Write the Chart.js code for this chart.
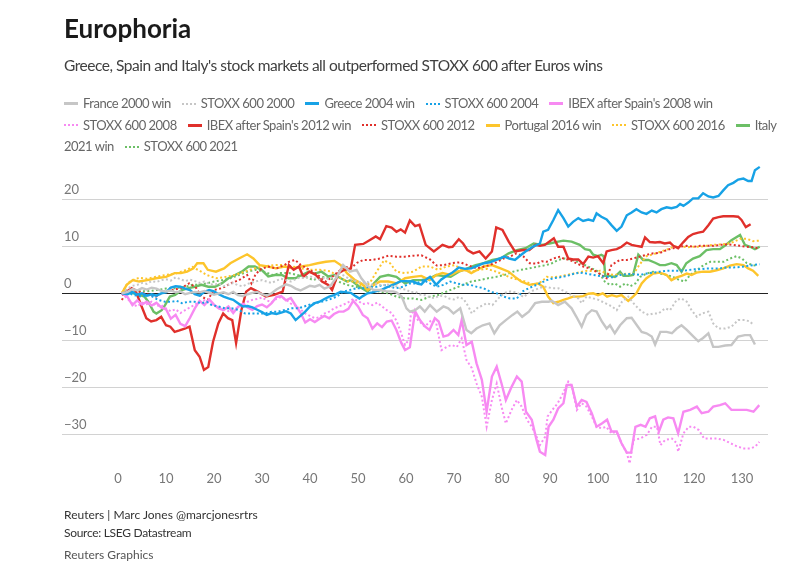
<!DOCTYPE html>
<html><head><meta charset="utf-8">
<script src="https://cdn.jsdelivr.net/npm/chart.js@4.4.1/dist/chart.umd.min.js"></script>
<style>
html,body{margin:0;padding:0;background:#fff;width:810px;height:576px;overflow:hidden;font-family:Lato,"Noto Sans",sans-serif;}
#c{position:absolute;left:0;top:0;}
.t{position:absolute;left:64px;white-space:nowrap;}
#title{top:12px;font-size:26px;font-weight:700;color:#1a1a1a;}
#sub{top:56px;font-size:15.5px;color:#404040;letter-spacing:-0.47px;}
#legend{top:93px;font-size:13px;color:#666;letter-spacing:-0.5px;}
.row{height:21.5px;line-height:21.5px;white-space:nowrap;}
.item{display:inline-block;margin-right:11px;}
.sw{display:inline-block;width:14px;height:0;vertical-align:middle;margin-right:5px;position:relative;top:-1px;}
#f1{top:507px;font-size:12px;color:#333;}
#f2{top:525px;font-size:12px;color:#333;letter-spacing:-0.3px;}
#f3{top:547px;font-size:12px;color:#555;}
</style></head>
<body>
<canvas id="c" width="810" height="576"></canvas>
<div class="t" id="title">Europhoria</div>
<div class="t" id="sub">Greece, Spain and Italy's stock markets all outperformed STOXX 600 after Euros wins</div>
<div class="t" id="legend"></div>
<div class="t" id="f1">Reuters | Marc Jones @marcjonesrtrs</div>
<div class="t" id="f2">Source: LSEG Datastream</div>
<div class="t" id="f3">Reuters Graphics</div>
<script>
// ---- DATA: [trading day after win, % change] ----
const xTickValues = [0,10,20,30,40,50,60,70,80,90,100,110,120,130];
const yTickValues = [-30,-20,-10,0,10,20];

const france2000 = [[0.8,0],[2,0.3],[3,0.9],[4,0.6],[5,1.1],[6,0.8],[7,1.2],[8,1.0],[9,0.5],[10,0.4],[11,0.6],[12,0.2],[13,0.4],[14,-0.2],[15,0.1],[16,0.3],[17,0.2],[18,0.5],[19,0.1],[20,-0.3],[21,0],[22,0.2],[23,-0.2],[24,0.3],[25,-0.4],[26,-0.6],[27,-0.2],[28,0.1],[29,0.3],[30,-0.2],[31,-0.5],[32,0],[33,0.8],[34,1.4],[35,1.9],[36,1.6],[37,1.0],[38,0.6],[39,1.1],[40,1.6],[41,1.4],[42,1.8],[43,1.0],[44.2,1.5],[45.6,3.5],[46.9,6.0],[48.3,4.6],[49.7,5.0],[50.7,3.2],[51.8,1.8],[53.2,0.7],[54.6,0.7],[55.9,0.4],[57.3,0.4],[58,0.2],[59.1,-0.7],[60.1,-3.2],[60.8,-3.9],[61.9,-3.6],[62.9,-2.8],[63.9,-3.9],[65,-2.5],[66.4,-3.9],[67.8,-2.8],[68.8,-3.2],[69.9,-4.3],[71.3,-3.2],[72.6,-7.8],[73.6,-8.5],[74.7,-7.5],[76,-6.8],[77.4,-6.4],[78.4,-8.5],[79.5,-6.8],[80.8,-5.7],[82.2,-4.6],[83.2,-3.9],[84.2,-5.0],[85.6,-3.9],[86.9,-2.1],[88.3,-1.8],[89.7,-1.8],[90.4,-1.6],[91.7,-2.5],[93.1,-1.8],[94.5,-3.2],[95.5,-5.0],[96.6,-7.1],[97.6,-4.6],[98.7,-3.6],[99.7,-3.9],[100.8,-6.0],[101.8,-7.5],[102.5,-6.8],[103.5,-8.5],[104.6,-6.8],[106,-5.3],[107,-5.2],[108.1,-6.8],[109.1,-8.2],[110.1,-8.5],[111.2,-9.2],[111.9,-10.9],[113,-8.2],[114.3,-8.2],[115.4,-8.5],[116.4,-7.5],[117.4,-6.8],[118.5,-7.8],[119.9,-9.2],[120.9,-10.2],[121.9,-9.5],[123,-8.5],[124,-11.4],[125.1,-11.4],[126.5,-11.1],[127.8,-11.0],[129.2,-9.2],[130.6,-8.9],[131.7,-8.9],[132.7,-10.9]];

const stoxx2000 = [[0.8,0],[2,1.0],[3,1.6],[4,1.8],[5,2.2],[6,2.0],[7,2.6],[8,2.4],[9,2.8],[10,3.0],[11,2.7],[12,3.4],[13,3.0],[14,2.6],[15,2.9],[16,2.6],[17,2.2],[18,2.5],[19,2.0],[20,1.8],[21,2.1],[22,1.5],[23,1.8],[24,2.2],[25,1.7],[26,1.5],[27,2.0],[28,2.3],[29,2.6],[30,2.8],[31,2.5],[32,2.2],[33,2.7],[34,3.1],[35,2.8],[36,2.5],[37,3.0],[38,3.4],[39,3.2],[40,3.6],[41,3.2],[42,2.9],[43,3.3],[44,3.0],[45,3.6],[46,4.2],[47,3.8],[48,3.2],[49,2.8],[50,2.5],[51,2.2],[52,2.4],[53,1.8],[54,2.1],[55,1.6],[56,2.0],[57,1.4],[58,1.5],[59,0.9],[60,0.8],[61,0.2],[62,0.3],[63,-0.3],[64,-0.4],[65,-0.9],[66,-1.0],[67,-0.5],[68,-0.6],[69,-1.1],[70,-1.3],[71,-0.8],[72,-1.2],[73,-2.8],[73.7,-4.3],[75,-3.0],[76,-2.6],[76.8,-2.1],[78,-2.5],[79.6,-0.7],[80.6,0.1],[81.7,0.4],[83,0.2],[84.5,-0.8],[85.5,0],[86.5,0.6],[88,1.2],[89,1.4],[90.4,1.1],[91.7,1.1],[93.1,0.4],[94.5,-0.4],[95.9,-1.1],[96.6,-2.1],[97.6,-0.7],[98.7,-1.0],[100.1,-1.4],[101.5,-2.1],[102.9,-2.8],[103.9,-3.6],[105,-1.8],[106.3,-0.7],[107.7,-2.5],[109.1,-3.9],[110.5,-4.6],[111.5,-4.3],[112.6,-4.3],[114,-3.2],[115,-3.6],[116.4,-1.4],[117.4,-1.1],[118.5,-1.8],[119.5,-3.6],[120.6,-5.0],[121.6,-4.3],[123,-3.9],[124,-6.4],[125.1,-7.5],[126.5,-7.5],[127.8,-7.1],[129.2,-5.7],[130.6,-5.7],[131.7,-6.0],[132.4,-6.8]];

const greece2004 = [[0.8,0],[2,-0.2],[3,0.3],[4,-0.3],[5,0],[6,-0.5],[7,-0.2],[8,-0.5],[9,0],[10,0.2],[11,1.2],[12,1.5],[13,1.4],[14,1.0],[15,0.7],[16,-0.2],[17,-0.5],[18,0.3],[19,0.7],[20,0.4],[21,-0.2],[22,-0.7],[23,-1.1],[24,-1.4],[25,-2.1],[26,-2.8],[27,-2.7],[28,-3.0],[29,-3.5],[30,-4.0],[31,-4.6],[32,-4.2],[33,-4.4],[34,-4.1],[35,-3.8],[36,-4.3],[37,-5.7],[38,-4.8],[39,-3.9],[40,-2.8],[41,-2.1],[42,-1.8],[43,-1.2],[44,-0.7],[45,-0.4],[46.4,0.35],[47.5,0.2],[48.5,0.1],[49.5,-0.6],[50.3,-1.1],[51,-0.6],[52,0],[53,0.2],[54,0.5],[55,0.8],[56.3,1.4],[57.5,1.9],[58.9,2.6],[60,2.6],[61.5,2.5],[62.5,2.0],[63.2,1.9],[64,2.8],[65,3.5],[66.3,1.8],[67.3,2.9],[68.4,3.7],[69.5,4.3],[71,5.5],[72.3,5.2],[73.6,5.3],[75,5.9],[76.2,6.4],[77.5,6.6],[78.8,7.1],[80.5,7.8],[81.5,7.4],[82.7,7.1],[84,8.2],[84.9,8.9],[86.6,10.0],[87.9,10.6],[88.6,13.1],[89.6,13.5],[90.7,15.6],[91.7,17.7],[92.8,16.0],[93.8,14.2],[94.8,15.2],[95.9,16.0],[96.9,15.4],[98,15.7],[99,15.4],[99.7,17.0],[100.7,16.3],[101.8,15.7],[102.8,14.5],[103.9,13.3],[104.9,14.2],[106,16.6],[107,17.2],[108,17.9],[109.1,17.2],[110.1,16.9],[111.2,17.6],[112.2,17.2],[113.2,17.9],[114.3,18.3],[115.3,18.1],[116.4,18.4],[117.1,19.0],[117.8,18.6],[118.8,19.3],[119.8,20.2],[120.9,20.2],[121.9,21.3],[123,20.6],[124,20.4],[125.1,20.7],[126.1,21.9],[127.1,23.0],[128.2,23.5],[129.2,24.2],[130.3,24.4],[131.3,23.9],[132,23.9],[132.7,26.2],[133.7,26.9]];

const stoxx2004 = [[0.8,0],[2,0.1],[3.2,-0.35],[4.9,-0.7],[6.5,-0.35],[8.4,-1.4],[9.8,-1.8],[11.2,-1.8],[12.2,-1.6],[13.3,-2.1],[14.7,-1.8],[16,-1.8],[17.4,-2.1],[18.5,-1.8],[19.5,-2.5],[20.9,-2.8],[22.3,-3.2],[23.7,-3.2],[25.1,-3.55],[26.5,-4.3],[27.8,-4.3],[29.2,-4.3],[30.6,-4.3],[32,-3.9],[33.4,-3.9],[34.8,-3.55],[36.2,-3.2],[37.6,-3.2],[39.7,-2.5],[41,-2.1],[42.4,-1.8],[43.8,-1.4],[45.6,-0.7],[46.9,0.35],[48.3,0.7],[49.7,1.1],[51.1,1.1],[52.5,1.4],[53.9,1.4],[55.3,1.8],[56.6,1.4],[58,1.1],[59.4,1.4],[60.8,2.1],[62.2,2.1],[63.6,2.8],[65,2.1],[66.4,1.4],[67.8,1.8],[69.2,2.5],[70.6,2.1],[72,1.8],[73.4,1.8],[74.7,1.4],[76.1,1.1],[77.5,0.35],[78.9,0],[80.3,-0.7],[81.7,-1.1],[83.1,-1.1],[84.2,0.35],[85.6,1.1],[87.2,1.8],[88.3,2.3],[89.3,2.8],[90.7,3.2],[92.1,3.4],[93.5,3.7],[94.8,4.1],[96.2,4.4],[97.6,4.2],[99,3.9],[100.4,3.7],[101.8,3.5],[103.2,3.4],[104.6,3.9],[106,4.1],[107.3,4.1],[108.7,3.9],[110.1,4.2],[111.5,4.4],[112.9,4.6],[114.3,4.8],[115.7,4.8],[117.1,4.8],[118.5,4.9],[119.9,5.1],[121.2,5.1],[122.6,5.3],[124,5.3],[125.4,5.3],[126.8,5.5],[128.2,5.5],[129.6,5.6],[131,5.8],[132.3,6.0],[133.7,6.2]];

const ibex2008 = [[0.8,0],[2,-0.8],[3,-2.5],[4,-1.5],[5,-2.4],[6,-1.8],[7,-2.6],[8,-2.0],[9,-3.0],[10,-3.4],[11,-5.4],[12,-4.6],[13,-6.5],[14,-7.0],[15,-5.2],[16,-3.2],[17,-1.6],[18,-2.5],[19,-1.3],[20,-2.4],[21,-3.2],[22,-3.6],[23,-2.8],[24,-4.2],[25,-2.9],[26,-2.2],[27,-3.0],[28,-3.5],[29,-2.7],[30,-2.4],[31,-3.0],[32,-2.1],[33,-0.8],[34,-0.6],[35,-1.5],[36,-1.0],[37,-2.6],[38,-4.1],[39,-6.2],[40,-5.5],[41,-6.1],[42,-5.4],[43,-4.8],[44,-5.3],[45,-4.4],[46,-3.9],[47,-3.9],[48,-3.3],[49,-1.6],[50,-2.8],[51,-4.6],[52,-5.3],[53,-7.5],[54,-6.4],[55,-7.2],[56,-6.0],[57,-5.8],[58,-7.8],[59,-10.5],[59.8,-12.1],[60.8,-11.5],[61.9,-3.8],[62.9,-5.7],[64,-7.1],[64.9,-7.8],[66,-5.3],[66.8,-6.0],[67.8,-9.2],[68.8,-8.9],[69.9,-7.8],[70.9,-8.9],[71.6,-5.7],[72.6,-11.0],[73.7,-10.3],[74.7,-14.9],[75.8,-18.4],[76.8,-25.2],[77.9,-17.7],[78.9,-15.6],[79.9,-19.2],[80.8,-22.7],[82,-19.9],[83.1,-17.7],[84.1,-18.8],[85,-25.2],[86.2,-26.9],[87.2,-31.2],[87.9,-33.7],[89,-34.4],[89.7,-28.4],[90.7,-26.9],[91.7,-24.5],[92.8,-23.4],[93.5,-19.5],[94.5,-19.5],[95.6,-24.1],[96.6,-22.7],[97.6,-23.1],[98.7,-25.5],[99.7,-28.4],[100.8,-27.7],[101.9,-26.9],[102.8,-29.4],[103.9,-29.4],[104.9,-31.9],[106,-33.9],[106.9,-33.9],[107.8,-28.4],[108.9,-28.0],[109.9,-28.4],[110.8,-26.6],[111.9,-26.2],[112.7,-29.4],[113.6,-26.9],[114.6,-26.4],[115.7,-26.6],[116.7,-29.8],[117.8,-25.2],[119.2,-24.8],[120.6,-24.1],[121.6,-25.5],[123,-25.2],[124,-24.1],[125.4,-23.8],[126.5,-23.4],[127.8,-24.8],[129.2,-24.8],[131,-24.8],[132.4,-25.2],[133.6,-23.8]];

const stoxx2008 = [[0.8,0],[2,-1.2],[3,-2.2],[4,-2.8],[5,-2.0],[6,-2.3],[7,-1.8],[8,-2.7],[9,-2.5],[10,-3.2],[11,-3.8],[12,-3.4],[13,-4.2],[14,-3.6],[15,-3.0],[16,-2.4],[17,-1.8],[18,-1.5],[19,-2.0],[20,-2.6],[21,-3.0],[22,-3.3],[23,-3.8],[24,-3.5],[25,-3.0],[26,-2.5],[27,-1.8],[28,-1.4],[29,-1.2],[30,-0.9],[31,-1.5],[32,-1.9],[33,-1.2],[34,-0.8],[35,-1.3],[36,-2.2],[37,-2.6],[38,-3.4],[39,-4.3],[40,-4.8],[41,-5.3],[42,-5.1],[43,-4.3],[44,-3.9],[45,-3.2],[46,-2.8],[47,-2.4],[48,-1.9],[49,-1.2],[50,-1.6],[51,-2.3],[52,-2.1],[53,-2.5],[54,-2.0],[55,-2.8],[56,-3.6],[57,-4.2],[58,-5.8],[59,-8.5],[59.8,-11.0],[60.5,-10.0],[61.1,-3.6],[62.5,-5.7],[63.9,-7.1],[65.3,-5.7],[66.3,-6.4],[67.4,-12.1],[68.5,-11.4],[69.5,-11.0],[70.6,-11.4],[71.6,-9.6],[72.6,-14.2],[73.7,-15.9],[74.7,-19.2],[75.8,-22.0],[76.8,-28.4],[77.9,-22.7],[78.9,-19.2],[79.9,-24.1],[80.8,-27.7],[82,-24.8],[83.1,-22.7],[84.1,-24.1],[85.2,-26.9],[86.2,-28.4],[87.2,-30.5],[87.9,-32.3],[89,-30.5],[89.5,-26.2],[90.5,-24.8],[91.6,-23.4],[92.7,-21.3],[93.8,-18.8],[94.6,-19.9],[95.6,-24.8],[96.6,-23.4],[97.6,-24.1],[98.7,-26.2],[99.7,-28.4],[100.8,-28.7],[101.7,-28.4],[102.8,-29.8],[103.9,-29.4],[104.9,-31.9],[106,-34.0],[106.6,-36.2],[107.4,-31.2],[108.75,-30.9],[110.2,-30.1],[111.25,-28.4],[112.3,-28.4],[113,-32.3],[114,-31.2],[115.4,-30.9],[116.4,-31.9],[116.7,-33.7],[117.8,-29.8],[118.9,-28.4],[119.9,-28.4],[121,-29.1],[122.1,-30.9],[123.4,-30.9],[124.8,-30.9],[126.2,-31.2],[127.6,-31.9],[129,-32.6],[130.4,-33.0],[131.8,-33.0],[132.8,-32.6],[133.6,-31.6]];

const ibex2012 = [[0.8,-0.35],[1.8,0.35],[2.8,1.1],[3.6,0.7],[4.8,-2.5],[5.9,-5.3],[6.9,-6.0],[8,-5.7],[9,-5.0],[10,-6.8],[10.9,-7.1],[11.8,-8.2],[12.8,-7.9],[13.9,-7.5],[14.9,-7.1],[16,-12.1],[17,-13.5],[17.9,-16.3],[18.8,-15.7],[19.8,-10.3],[20.9,-6.4],[21.9,-4.3],[22.9,-5.3],[23.8,-5.7],[24.6,-10.6],[25.7,-3.6],[26.7,0.35],[27.7,1.1],[29.1,0.35],[30.8,-0.7],[32.5,-0.35],[34.3,0.35],[35.6,6.0],[36.6,5.0],[37.7,5.7],[38.6,3.5],[39.9,4.6],[41.2,3.9],[42.5,2.5],[43.8,1.8],[44.6,0.7],[45.9,4.3],[47.2,5.0],[48.5,5.3],[49.4,10.3],[51.1,10.5],[52.4,11.3],[53.7,12.1],[54.6,11.5],[55.9,14.3],[57,14.0],[58,13.1],[58.9,13.6],[59.8,12.9],[60.8,15.5],[61.9,14.3],[62.8,14.6],[64.1,10.3],[65.8,8.9],[67.6,10.3],[68.9,9.8],[69.7,9.9],[71,11.5],[71.9,10.6],[72.8,9.2],[74,8.5],[75.3,8.9],[76.6,7.4],[77.9,8.9],[78.8,14.0],[80.1,13.5],[81.4,11.0],[82.7,8.9],[84.4,9.2],[85.7,9.2],[87,10.3],[87.9,10.1],[88.9,10.3],[90.8,11.7],[91.7,9.9],[92.8,9.9],[93.8,7.4],[94.8,7.2],[95.9,7.2],[96.9,6.2],[98,7.8],[99,7.6],[100,7.9],[101.1,6.4],[101.8,8.9],[102.8,9.2],[103.9,9.4],[104.9,9.9],[106,10.8],[107,10.3],[108,10.1],[109.1,9.9],[109.8,11.9],[110.8,10.9],[111.9,10.8],[112.9,10.9],[113.9,10.6],[115,10.8],[115.7,10.1],[116.7,9.6],[117.8,10.9],[118.8,12.0],[119.8,12.6],[120.9,12.9],[121.9,13.1],[123,14.5],[124,15.9],[125.1,16.2],[126.1,16.4],[127.1,16.4],[128.2,16.4],[129.2,16.3],[129.9,15.6],[130.8,14.1],[131.8,14.7]];

const stoxx2012 = [[0.8,-1.4],[1.8,0.35],[3.5,0.7],[5.3,0],[6.5,-0.3],[7.9,-0.7],[9.6,0.35],[11.3,0.7],[13.1,1.1],[14.8,2.1],[16.1,1.4],[17.4,-0.7],[18.7,-1.4],[20,0.7],[21.7,1.1],[23.4,2.1],[25.2,2.8],[26.9,3.9],[27.8,2.1],[28.6,3.9],[29.5,5.0],[31.2,5.7],[33,5.3],[34.7,6.0],[35.6,6.7],[36.9,7.1],[38.1,6.0],[39.9,5.0],[41.6,3.9],[43.3,2.5],[44.6,3.5],[45.9,4.6],[47.2,5.7],[48.5,5.3],[49.8,6.5],[51.1,7.1],[52.9,7.1],[54.6,7.4],[56.3,8.0],[58,7.8],[59.8,7.8],[61.5,8.0],[63.2,8.1],[65,7.2],[66.4,5.9],[67.8,6.0],[69.5,6.4],[71.3,6.6],[72.8,6.0],[74.7,5.3],[76,5.6],[77.4,6.0],[78.8,6.6],[80.3,7.4],[81.7,7.8],[83,8.5],[84.5,7.8],[85.8,6.4],[87.2,6.3],[88.3,6.8],[89.3,6.7],[90.7,7.4],[92.1,7.8],[92.8,7.4],[94.1,7.1],[95.5,6.4],[96.9,5.7],[98.3,5.3],[99.7,4.6],[100.7,3.9],[101.8,3.2],[102.8,6.0],[104.6,7.1],[106,7.1],[107.3,7.4],[108.7,7.8],[110.1,8.2],[111.5,8.5],[112.9,8.6],[114.3,9.2],[115.7,9.6],[117.1,9.9],[118.5,10.1],[119.9,9.9],[121.3,10.1],[122.6,10.1],[124,10.1],[125.4,10.3],[126.8,10.4],[128.2,10.3],[129.6,10.1],[131,9.9],[132.4,9.8],[133.2,9.6]];

const portugal2016 = [[0.8,0],[1.8,1.8],[3.1,2.8],[4.4,2.5],[6.1,2.8],[7.9,3.2],[10,3.5],[11.8,4.3],[13.1,4.3],[14.4,4.6],[15.7,5.3],[16.5,6.4],[17.8,6.4],[18.7,5.0],[20.4,4.6],[22.1,5.3],[23.4,6.4],[25.2,7.4],[26.9,8.3],[28.2,7.4],[29.5,6.0],[31.2,5.7],[32.9,5.3],[34.7,5.7],[36.4,5.3],[38.2,5.7],[39.9,6.0],[41.6,6.4],[43.3,6.7],[45.1,6.9],[46.4,6.0],[47.7,4.3],[49.4,2.8],[50.7,2.1],[52,0.7],[53.3,1.8],[54.6,2.5],[56.3,2.5],[58.1,2.1],[59.8,3.2],[61.5,3.5],[63.2,3.7],[64.9,2.8],[66.3,3.9],[67.6,4.3],[69.3,3.9],[70.6,4.6],[72.3,5.0],[73.6,4.3],[74.9,5.0],[76.2,5.7],[77.9,6.0],[79.7,5.3],[81.4,4.6],[82.7,3.5],[84,2.5],[85.7,1.8],[87.5,2.1],[88.6,1.4],[89.6,-0.7],[90.7,-2.1],[91.7,-1.8],[92.8,-1.4],[93.8,-1.1],[94.8,-0.7],[96,-0.7],[96.9,-0.6],[98,-0.1],[99,0],[100,-0.4],[101,0],[101.9,-0.7],[102.9,-0.4],[103.9,-0.7],[104.9,-0.4],[106.3,-1.6],[107.3,-0.7],[108,0],[109.1,2.1],[110.1,3.2],[111.5,4.2],[112.9,4.4],[114.3,3.9],[115.3,2.8],[116.4,3.4],[117.4,3.7],[118.5,4.2],[119.5,3.9],[120.5,4.4],[121.9,4.6],[123.3,4.6],[124.7,4.9],[126.1,5.3],[127.5,5.9],[128.9,6.2],[130.3,6.0],[131.3,5.3],[132.3,4.8],[133.4,3.7]];

const stoxx2016 = [[0.8,0],[2,2.2],[3,2.8],[4.4,3.3],[6,3.1],[7.9,3.5],[10,3.9],[12,4.2],[14.3,5.0],[15.5,5.6],[17,4.8],[18.5,3.9],[20.4,3.2],[22.5,3.5],[24.4,3.9],[26.4,4.6],[28,5.2],[30.2,5.7],[32.5,6.0],[34.5,6.0],[36.4,5.7],[38.2,5.3],[40,5.0],[42,5.0],[44.2,4.7],[46,3.5],[47.7,2.5],[49,2.5],[51,1.5],[52.4,2.1],[53.7,4.3],[55.4,7.0],[56.7,6.4],[58,4.6],[59.8,4.3],[61.5,4.6],[63.2,5.7],[65,5.7],[66.7,5.0],[68.4,5.7],[70.1,6.0],[71.9,5.0],[73.6,4.6],[75.2,5.0],[76.9,5.2],[78.8,4.6],[80.5,3.9],[82.2,3.2],[84.9,2.5],[86.6,1.8],[88.3,2.5],[89.3,3.5],[90.7,3.4],[92.1,3.6],[93.5,3.9],[94.9,4.2],[96.3,4.5],[97.7,4.8],[99.1,4.7],[100.5,4.8],[101.9,4.2],[103.3,3.9],[104.7,4.0],[106.1,4.2],[107.4,4.1],[108.4,5.7],[109.1,6.7],[110.1,7.9],[111.5,8.3],[112.9,8.8],[114.3,9.3],[115.7,9.9],[117.1,10.0],[118.5,9.8],[119.9,9.9],[121.3,9.9],[122.6,10.1],[124,10.3],[125.4,10.4],[126.8,10.5],[128.2,10.9],[129.6,11.6],[131,11.6],[132.3,11.1],[133.7,11.2]];

const italy2021 = [[0.8,0],[2,0.35],[3.2,0],[4.5,-0.35],[5.5,-0.7],[6.3,-1.8],[7.4,-3.9],[8,-4.3],[9.1,-3.6],[9.8,-2.5],[10.8,-0.7],[11.9,-0.35],[13.3,0.7],[14.7,1.1],[16,1.4],[17.4,1.8],[18.8,1.4],[20.2,1.4],[21.6,2.1],[23,3.2],[24.4,3.9],[25.8,4.6],[27.2,5.7],[28.5,5.7],[29.9,5.0],[31.3,3.6],[32.7,3.9],[34.1,3.9],[35.5,3.2],[36.9,3.2],[38.3,3.9],[39.7,4.6],[41,4.2],[42.4,4.6],[43.8,3.6],[45.2,3.9],[46.4,3.2],[47.7,2.5],[48.5,2.8],[50.3,1.4],[52,0.35],[53.3,2.1],[54.6,3.5],[56.3,3.9],[58,3.5],[59.8,2.1],[61.5,2.8],[63.2,2.8],[65,3.2],[66.3,3.9],[67.6,3.7],[69.3,3.5],[71,4.6],[72.8,5.3],[74.5,6.0],[76.2,6.4],[78,7.1],[79.7,7.4],[81.4,8.5],[83.1,9.2],[84.9,9.6],[86.6,10.6],[88.3,10.3],[89.9,10.6],[91.7,11.0],[92.8,11.2],[94.5,11.0],[96.2,10.3],[97.3,9.4],[98.3,9.2],[99,8.2],[100,7.9],[100.7,8.2],[101.2,7.9],[101.5,3.7],[102.5,3.7],[103.5,3.5],[104.6,4.6],[105.3,3.7],[106.3,3.7],[107.3,3.9],[108.4,8.2],[109.4,7.1],[110.5,7.1],[111.9,6.5],[112.9,6.0],[114,6.0],[115.3,6.4],[116.4,6.0],[117.4,4.6],[118.4,6.4],[119.8,7.4],[121.2,7.9],[122.6,9.2],[124,9.4],[125.4,9.4],[126.4,10.1],[127.8,11.3],[129.6,12.4],[130.6,10.3],[131.7,9.9],[132.7,9.4],[133.7,9.9]];

const stoxx2021 = [[0.8,0],[2,0.7],[4,0.5],[6,0.4],[8,0.7],[10,1.0],[12,1.1],[14,1.4],[15.5,1.8],[17,1.8],[18.3,2.1],[20,2.5],[21.7,2.8],[23.4,3.2],[25.2,3.9],[26.9,4.6],[28.6,5.0],[30.4,4.6],[32.1,3.9],[33.8,4.3],[35.6,4.3],[37.3,3.9],[39.1,3.5],[40.7,2.8],[42.5,3.5],[44.2,3.2],[45.9,2.5],[47.7,1.8],[49.4,1.4],[51.1,1.1],[52.9,0.7],[54.6,0.35],[56.3,0],[58,-0.7],[59.8,-1.1],[61.5,-1.1],[63.2,-1.4],[65,-0.7],[66.7,-0.35],[68.4,0.35],[70.2,1.1],[71.9,1.8],[73.6,2.5],[75.3,2.8],[77.1,3.2],[78.8,3.5],[80.5,3.9],[82.3,4.6],[84,5.0],[85.7,5.3],[87.5,5.7],[89.2,6.0],[90.4,6.4],[91.7,7.1],[93.1,7.4],[94.5,7.1],[95.9,6.7],[97.3,6.0],[98.7,5.3],[100.1,4.6],[101.4,2.5],[102.5,1.8],[103.5,2.1],[104.6,1.4],[105.7,2.1],[106.7,1.5],[107.8,2.1],[108.8,3.5],[110.1,4.2],[111.5,4.6],[112.9,4.2],[114.3,3.9],[115.6,3.5],[117,2.8],[118.1,2.5],[119.2,3.9],[120.6,4.9],[122,6.0],[123.4,6.7],[124.8,6.7],[126.2,6.7],[127.5,7.4],[128.9,7.9],[130,7.4],[131,6.4],[132.3,6.0],[133.2,5.8]];

const seriesNames = ["France 2000 win","STOXX 600 2000","Greece 2004 win","STOXX 600 2004","IBEX after Spain's 2008 win","STOXX 600 2008","IBEX after Spain's 2012 win","STOXX 600 2012","Portugal 2016 win","STOXX 600 2016","Italy 2021 win","STOXX 600 2021"];
const seriesData = [france2000,stoxx2000,greece2004,stoxx2004,ibex2008,stoxx2008,ibex2012,stoxx2012,portugal2016,stoxx2016,italy2021,stoxx2021];
const seriesColors = ['#c6c6c6','#c6c6c6','#17a2e6','#17a2e6','#f78af2','#f78af2','#e0302b','#e0302b','#fdc52c','#fdc52c','#6cbf66','#6cbf66'];
const seriesDotted = [false,true,false,true,false,true,false,true,false,true,false,true];

// ---- Legend (HTML, wraps like the original) ----
function sw(i){
  const st = seriesDotted[i] ? `border-top:2px dotted ${seriesColors[i]}` : `border-top:3px solid ${seriesColors[i]}`;
  return `<span class="sw" style="${st}"></span>`;
}
const item = (i, txt) => `<span class="item">${sw(i)}${txt===undefined?seriesNames[i]:txt}</span>`;
document.getElementById('legend').innerHTML =
  `<div class="row">${[0,1,2,3,4].map(i=>item(i)).join('')}</div>` +
  `<div class="row">${[5,6,7,8,9].map(i=>item(i)).join('')}${item(10,'Italy')}</div>` +
  `<div class="row"><span class="item">2021 win</span>${item(11)}</div>`;

// ---- Chart ----
const datasets = seriesData.map((d,i)=>({
  label: seriesNames[i],
  data: d.map(p=>({x:p[0], y:p[1]})),
  borderColor: seriesColors[i],
  borderWidth: seriesDotted[i] ? 2 : 2.4,
  borderDash: seriesDotted[i] ? [2,2.4] : [],
  pointRadius: 0,
  tension: 0,
  fill: false
}));

new Chart(document.getElementById('c'), {
  type: 'line',
  data: { datasets },
  options: {
    responsive: false,
    animation: false,
    layout: { padding: { left: 60, right: 42, top: 161.7, bottom: 88.8 } },
    plugins: { legend: { display: false }, tooltip: { enabled: false } },
    scales: {
      x: {
        type: 'linear', min: -11.67, max: 135.42,
        afterBuildTicks: s => { s.ticks = xTickValues.map(v => ({ value: v })); },
        afterFit: s => { s.height = 20; },
        grid: { display: false, drawTicks: false },
        border: { display: false },
        ticks: { color: '#777', font: { family: 'Lato', size: 13 }, padding: 4, maxRotation: 0, autoSkip: false, callback: v => String(v) }
      },
      y: {
        min: -37, max: 28,
        afterBuildTicks: s => { s.ticks = yTickValues.map(v => ({ value: v })); },
        afterFit: s => { s.width = 2; },
        grid: { color: c => (c.tick && c.tick.value === 0) ? '#222' : '#d2d2d2', lineWidth: 1, drawTicks: false },
        border: { display: false },
        ticks: { mirror: true, padding: 2, labelOffset: -9, color: '#777', font: { family: 'Lato', size: 13 },
                 callback: v => v < 0 ? '\u2212' + Math.abs(v) : String(v) }
      }
    }
  }
});
</script>
</body></html>
